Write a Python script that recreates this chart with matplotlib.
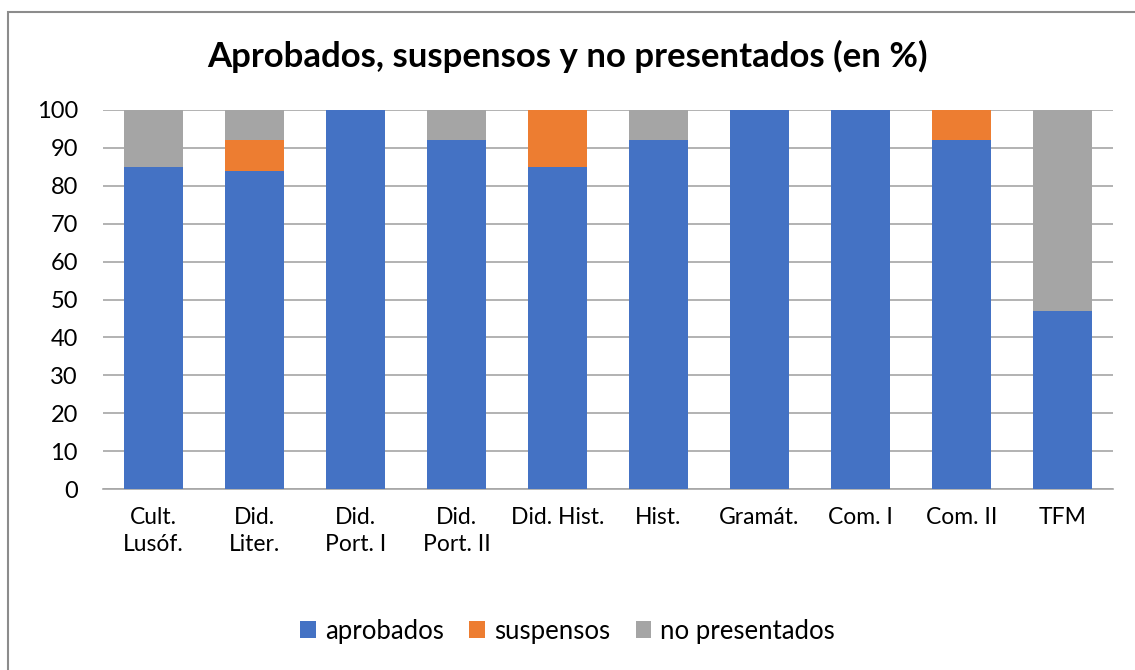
import numpy as np
import matplotlib.pyplot as plt
from matplotlib.patches import Rectangle

asignaturas = ["Cult.\nLusóf.", "Did.\nLiter.", "Did.\nPort. I", "Did.\nPort. II", "Did. Hist.",
               "Hist.", "Gramát.", "Com. I", "Com. II", "TFM"]
aprobados = [85, 84, 100, 92, 85, 92, 100, 100, 92, 47]
suspensos = [0, 8, 0, 0, 15, 0, 0, 0, 8, 0]
no_presentados = [15, 8, 0, 8, 0, 8, 0, 0, 0, 53]

plt.rcParams['font.family'] = ['Lato', 'DejaVu Sans']

fig = plt.figure(figsize=(11.35, 6.7), dpi=100)
ax = fig.add_axes([103 / 1135, 1 - 489 / 670, 1010 / 1135, 379 / 670])

x = np.arange(len(asignaturas))
ancho = 0.58
b1 = np.array(aprobados)
b2 = b1 + np.array(suspensos)
ax.bar(x, aprobados, ancho, color='#4472C4', label='aprobados', zorder=3)
ax.bar(x, suspensos, ancho, bottom=b1, color='#ED7D31', label='suspensos', zorder=3)
ax.bar(x, no_presentados, ancho, bottom=b2, color='#A5A5A5', label='no presentados', zorder=3)

ax.set_xlim(-0.5, len(asignaturas) - 0.5)
ax.set_ylim(0, 100)
ax.set_yticks(range(0, 101, 10))
ax.yaxis.grid(True, color='#a6a6a6', lw=1.2, zorder=0)
ax.set_xticks(x)
ax.set_xticklabels(asignaturas, linespacing=1.35)
ax.tick_params(axis='x', length=0, pad=13, labelsize=16.5)
ax.tick_params(axis='y', length=0, pad=18, labelsize=17)
for s in ['top', 'right', 'left']:
    ax.spines[s].set_visible(False)
ax.spines['bottom'].set_color('#a6a6a6')
ax.spines['bottom'].set_linewidth(1.2)

fig.text(0.5, 1 - 56 / 670, 'Aprobados, suspensos y no presentados (en %)',
         ha='center', va='center', fontsize=25, fontweight='bold')

fig.legend(loc='center', bbox_to_anchor=(0.5, 1 - 631 / 670), ncol=3, frameon=False,
           fontsize=18.5, handlelength=0.6, handleheight=0.6, handletextpad=0.35,
           columnspacing=1.0)

fig.patches.append(Rectangle((7.5 / 1135, -0.1), 1.2, 1.1 - 11.5 / 670, transform=fig.transFigure,
                             fill=False, edgecolor='#8c8c8c', lw=1.5))

fig.savefig('out.png', dpi=100)
